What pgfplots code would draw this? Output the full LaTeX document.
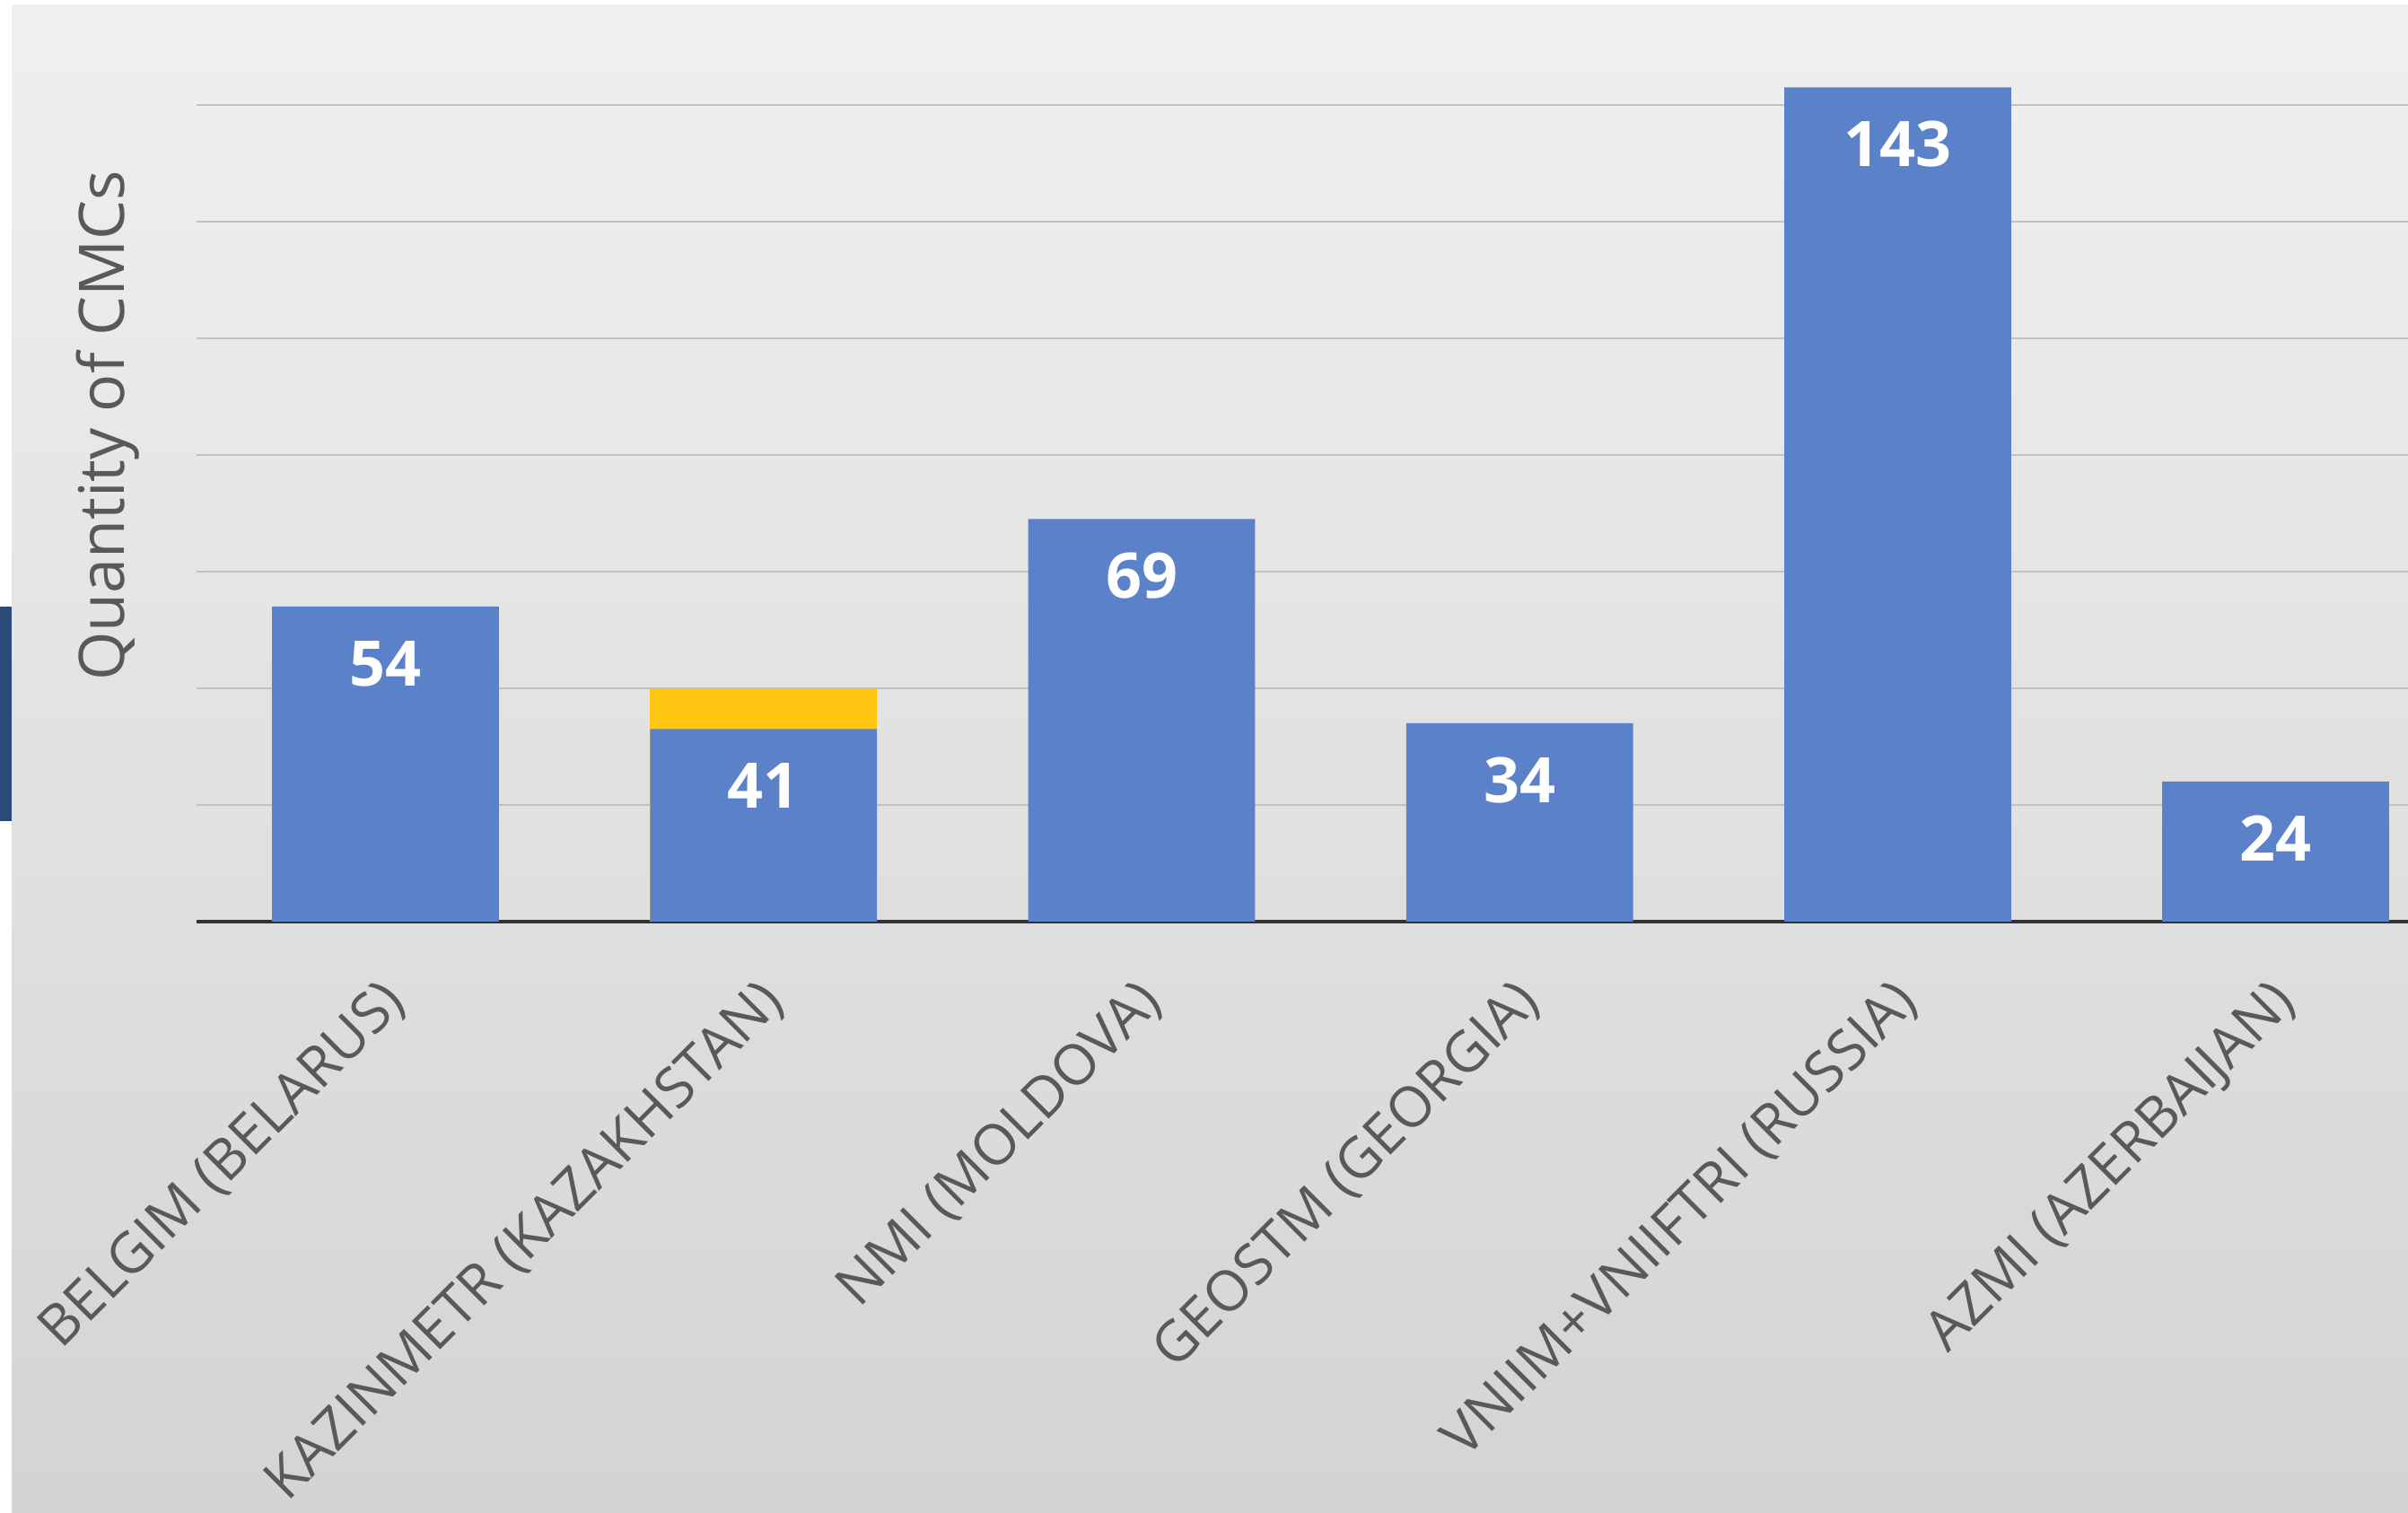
\documentclass[border=0pt]{standalone}
\usepackage{fontspec}
\setmainfont{Open Sans}
\usepackage{pgfplots}
\pgfplotsset{compat=1.18}
\definecolor{barblue}{HTML}{5B81C8}
\definecolor{bargold}{HTML}{FFC50F}
\definecolor{txtgray}{HTML}{595959}
\definecolor{gridgray}{HTML}{C2C2C2}
\definecolor{slideblue}{HTML}{2B4A78}
\begin{document}
\begin{tikzpicture}
% page frame 2683 x 1686 px at 0.2pt per px
\useasboundingbox (0,0) rectangle (536.6pt,337.2pt);
\fill[white] (0,0) rectangle (536.6pt,337.2pt);
\shade[top color=black!6, bottom color=black!17] (2.6pt,0) rectangle (536.6pt,336pt);
\fill[slideblue] (0,154.2pt) rectangle (2.6pt,202pt);
\begin{axis}[
    at={(43.8pt,131.8pt)}, anchor=south west,
    scale only axis,
    width=492.8pt, height=205.4pt,
    xmin=-0.5, xmax=5.35,
    ymin=0, ymax=158,
    axis lines*=left,
    x axis line style={draw=black!80, line width=0.8pt},
    y axis line style={draw=none},
    ytick={20,40,...,140},
    yticklabels={},
    ymajorgrids=true,
    major grid style={gridgray, line width=0.45pt},
    major tick length=0pt,
    xtick={0,...,5},
    xticklabels={BELGIM (BELARUS),KAZINMETR (KAZAKHSTAN),NMI (MOLDOVA),GEOSTM (GEORGIA),VNIIM+VNIIFTRI (RUSSIA),AZMI (AZERBAIJAN)},
    xticklabel style={xshift=-1.5pt, yshift=-7.1pt, rotate=45, anchor=north east,
        font=\fontsize{12.5}{14}\selectfont, text=txtgray},
    ylabel={Quantity of CMCs},
    ylabel style={at={(rel axis cs:-0.040,0.538)}, anchor=center, rotate=0,
        font=\fontsize{14}{16}\selectfont, text=txtgray},
    ybar, bar width=0.6, bar shift=0pt,
]
% total of KAZINMETR (gold part on top)
\addplot[fill=bargold, draw=none] coordinates {(1,40)};
\addplot[fill=barblue, draw=none,
    point meta=explicit symbolic,
    nodes near coords,
    every node near coord/.append style={anchor=center, yshift=-12.7pt,
        text=white, font=\fontsize{14}{16}\selectfont\bfseries}]
    coordinates {(0,54)[54] (1,33)[41] (2,69)[69] (3,34)[34] (4,143)[143] (5,24)[24]};
\end{axis}
\end{tikzpicture}
\end{document}
